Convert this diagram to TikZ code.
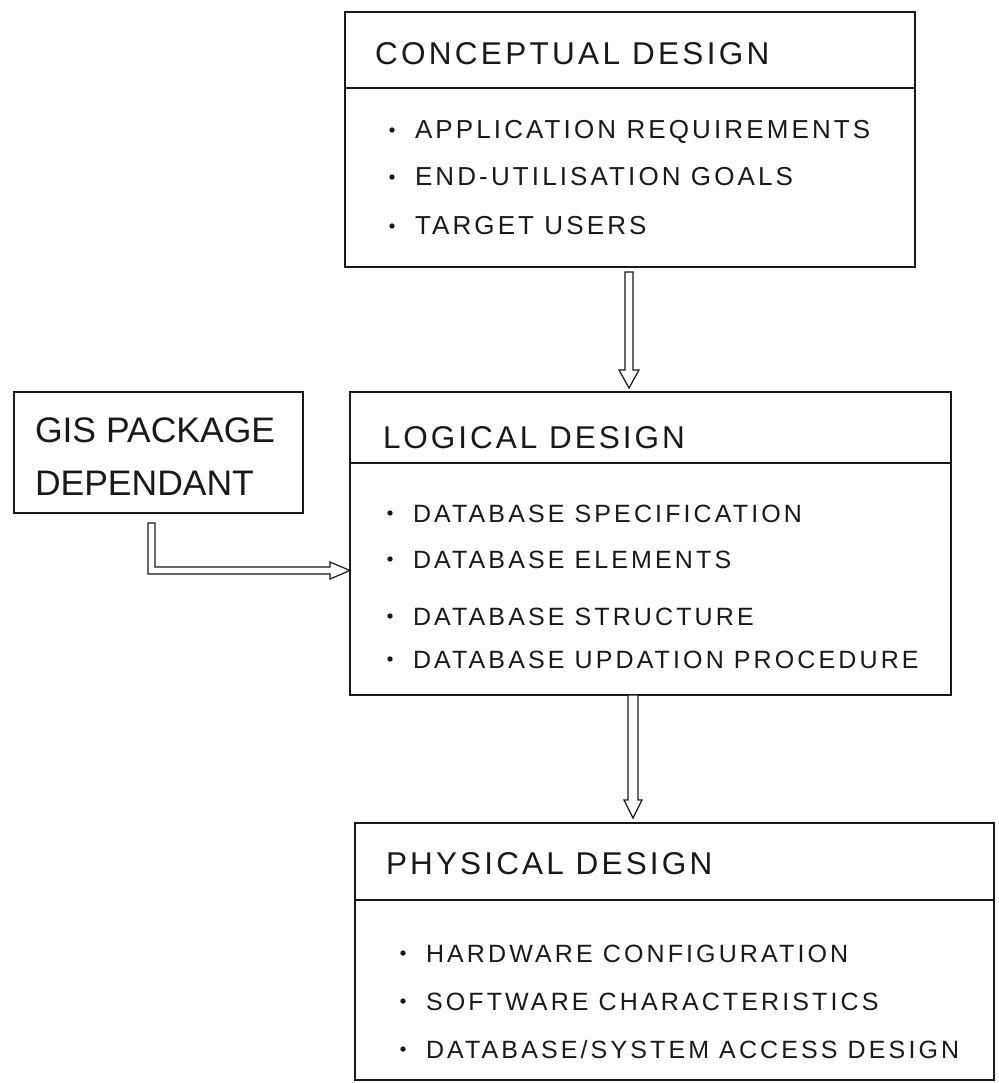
\documentclass[tikz,border=0pt]{standalone}
\usepackage{fontspec}
\setmainfont{Liberation Sans}
\usetikzlibrary{calc}
\tikzset{
  frame/.style={draw=black!90, line width=1.3pt, inner sep=0pt, outer sep=0pt, anchor=north west},
  rule/.style={draw=black!90, line width=1.2pt},
  arrowline/.style={draw=black!90, line width=1.2pt, line join=miter, fill=white},
  lbl/.style={anchor=base west, inner sep=0pt, outer sep=0pt, text=black!90},
  ttl/.style={lbl, font=\fontsize{31.5}{36}\selectfont\addfontfeature{LetterSpace=#1}},
  itm/.style={lbl, font=\fontsize{25}{30}\selectfont\addfontfeature{LetterSpace=12.5}},
  itmA/.style={lbl, font=\fontsize{26}{30}\selectfont\addfontfeature{LetterSpace=12}},
  dot/.style={fill=black!90}
}
\newcommand\hollowdown[5]{%
  \draw[arrowline] let \p1=(#1), \p2=(#2) in
    ({\x1-#3pt},\y1) -- ({\x1-#3pt},{\y2+#5pt}) -- ({\x1-#4pt},{\y2+#5pt}) --
    (\x1,\y2) -- ({\x1+#4pt},{\y2+#5pt}) -- ({\x1+#3pt},{\y2+#5pt}) --
    ({\x1+#3pt},\y1) -- cycle;}
\begin{document}
\begin{tikzpicture}[x=1pt,y=-1pt]
\useasboundingbox (0,0) rectangle (998,1083);

% boxes
\node[frame, minimum width=570pt, minimum height=255pt] (concept) at (345,12) {};
\node[frame, minimum width=601pt, minimum height=303pt] (logic) at (350,392) {};
\node[frame, minimum width=639pt, minimum height=257pt] (phys) at (355,823) {};
\node[frame, minimum width=289pt, minimum height=121pt] (gis) at (14,392) {};

% dividers
\draw[rule] ($(concept.north west)+(0,76)$) -- ($(concept.north east)+(0,76)$);
\draw[rule] ($(logic.north west)+(0,71)$) -- ($(logic.north east)+(0,71)$);
\draw[rule] ($(phys.north west)+(0,77)$) -- ($(phys.north east)+(0,77)$);

% titles
\node[ttl=10.5] (ctitle) at (375,65) {CONCEPTUAL DESIGN};
\node[ttl=9.5] (ltitle) at (383,448) {LOGICAL DESIGN};
\node[ttl=10] (ptitle) at (386,874) {PHYSICAL DESIGN};

% GIS box text
\node[lbl, font=\fontsize{35.5}{40}\selectfont] (gis1) at (35,442) {GIS PACKAGE};
\node[lbl, font=\fontsize{35.5}{40}\selectfont] (gis2) at (35,495) {DEPENDANT};

% conceptual items
\node[itmA] (c1) at (415,139) {APPLICATION REQUIREMENTS};
\node[itmA] (c2) at (415,186) {END-UTILISATION GOALS};
\node[itmA] (c3) at (415,235) {TARGET USERS};
% logical items
\node[itm] (l1) at (413,522) {DATABASE SPECIFICATION};
\node[itm] (l2) at (413,568) {DATABASE ELEMENTS};
\node[itm] (l3) at (413,625) {DATABASE STRUCTURE};
\node[itm] (l4) at (413,668) {DATABASE UPDATION PROCEDURE};
% physical items
\node[itm] (p1) at (426,962) {HARDWARE CONFIGURATION};
\node[itm] (p2) at (426,1010) {SOFTWARE CHARACTERISTICS};
\node[itm] (p3) at (426,1058) {DATABASE/SYSTEM ACCESS DESIGN};

% bullets
\foreach \n in {c1,c2,c3,l1,l2,l3,l4,p1,p2,p3}
  \fill[dot] ($(\n.base west)+(-23,-9)$) circle (2.7pt);

% arrows
\coordinate (a1s) at ($(concept.south west)+(284,5)$);
\coordinate (a1t) at ($(a1s |- logic.north)+(0,-4)$);
\hollowdown{a1s}{a1t}{4}{10}{18}

\coordinate (a2s) at ($(logic.south west)+(283,0)$);
\coordinate (a2t) at ($(a2s |- phys.north)+(0,-5)$);
\hollowdown{a2s}{a2t}{5}{9}{18}

\coordinate (g1) at ($(gis.south west)+(134,10)$);
\coordinate (g2) at ($(logic.north west)+(0,178.5)$);
\draw[arrowline] let \p1=(g1), \p2=(g2) in
  (\x1,\y1) -- (\x1,{\y2-3.5pt}) -- ({\x2-20pt},{\y2-3.5pt}) -- ({\x2-20pt},{\y2-8.5pt}) --
  (\x2,\y2) -- ({\x2-20pt},{\y2+8.5pt}) -- ({\x2-20pt},{\y2+3.5pt}) --
  ({\x1+7pt},{\y2+3.5pt}) -- ({\x1+7pt},\y1) -- cycle;
\end{tikzpicture}
\end{document}
